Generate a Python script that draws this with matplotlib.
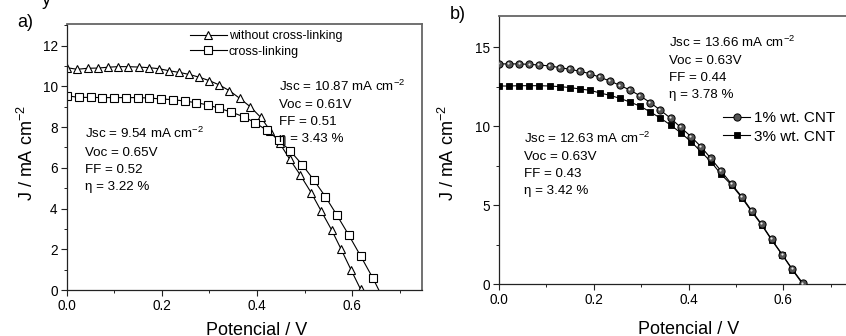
import matplotlib
matplotlib.use("Agg")
import matplotlib.pyplot as plt
from matplotlib.ticker import MultipleLocator, FormatStrFormatter
from matplotlib.transforms import offset_copy

plt.rcParams['font.family'] = ['Liberation Sans', 'DejaVu Sans']
plt.rcParams['mathtext.default'] = 'regular'

# ---------------- data ----------------
# panel a
v_without = [0.000, 0.022, 0.044, 0.065, 0.086, 0.107, 0.129, 0.151, 0.173, 0.194,
             0.215, 0.236, 0.257, 0.279, 0.300, 0.321, 0.342, 0.364, 0.386, 0.408,
             0.428, 0.448, 0.469, 0.491, 0.514, 0.535, 0.557, 0.577, 0.598, 0.618]
j_without = [10.92, 10.84, 10.89, 10.90, 10.94, 10.97, 10.97, 10.95, 10.92, 10.87,
             10.77, 10.69, 10.59, 10.45, 10.28, 10.07, 9.79, 9.41, 9.00, 8.48,
             7.83, 7.20, 6.42, 5.65, 4.78, 3.88, 2.95, 2.00, 0.98, 0.03]
v_cross = [0.000, 0.026, 0.051, 0.075, 0.100, 0.124, 0.149, 0.174, 0.199, 0.223,
           0.248, 0.272, 0.297, 0.321, 0.346, 0.372, 0.396, 0.421, 0.446, 0.470,
           0.495, 0.519, 0.544, 0.568, 0.593, 0.618, 0.644, 0.668]
j_cross = [9.54, 9.46, 9.46, 9.45, 9.45, 9.45, 9.45, 9.43, 9.38, 9.35,
           9.28, 9.20, 9.09, 8.92, 8.74, 8.51, 8.22, 7.84, 7.37, 6.83,
           6.16, 5.42, 4.58, 3.68, 2.70, 1.67, 0.57, -0.55]
labels_a = ['without cross-linking', 'cross-linking']
annot_a1 = ['Jsc = 10.87 mA cm$^{-2}$', 'Voc = 0.61V', 'FF = 0.51', 'η = 3.43 %']
annot_a2 = ['Jsc = 9.54 mA cm$^{-2}$', 'Voc = 0.65V', 'FF = 0.52', 'η = 3.22 %']

# panel b
v_cnt = [0.000, 0.021, 0.043, 0.064, 0.085, 0.107, 0.129, 0.150, 0.171, 0.192,
         0.213, 0.234, 0.255, 0.276, 0.298, 0.319, 0.340, 0.362, 0.383, 0.405,
         0.426, 0.447, 0.468, 0.491, 0.512, 0.533, 0.554, 0.575, 0.598, 0.619, 0.641]
j_cnt1 = [13.95, 13.95, 13.95, 13.92, 13.88, 13.82, 13.71, 13.61, 13.48, 13.33,
          13.10, 12.87, 12.59, 12.30, 11.92, 11.50, 11.03, 10.51, 9.94, 9.35,
          8.71, 7.97, 7.19, 6.33, 5.55, 4.66, 3.80, 2.85, 1.86, 0.95, 0.06]
j_cnt3 = [12.55, 12.55, 12.57, 12.57, 12.57, 12.55, 12.51, 12.45, 12.36, 12.28,
          12.11, 11.96, 11.77, 11.54, 11.27, 10.91, 10.53, 10.08, 9.60, 9.03,
          8.40, 7.76, 6.98, 6.27, 5.49, 4.60, 3.76, 2.81, 1.84, 0.91, 0.00]
labels_b = ['1% wt. CNT', '3% wt. CNT']
annot_b1 = ['Jsc = 13.66 mA cm$^{-2}$', 'Voc = 0.63V', 'FF = 0.44', 'η = 3.78 %']
annot_b2 = ['Jsc = 12.63 mA cm$^{-2}$', 'Voc = 0.63V', 'FF = 0.43', 'η = 3.42 %']

# ---------------- figure ----------------
W, H = 846, 336
fig = plt.figure(figsize=(W / 100, H / 100), dpi=100)


def fx(x):
    return x / W


def fy(y):
    return 1 - y / H


def add_axes_px(l, r, t, b):
    return fig.add_axes([fx(l), fy(b), (r - l) / W, (b - t) / H])


axA = add_axes_px(66.7, 422, 24.3, 290)
axB = add_axes_px(499, 846, 15.7, 284.3)

lw = 0.8
axA.plot(v_without, j_without, color='black', lw=lw, marker='^', ms=6.4,
         mfc='white', mec='black', mew=0.8, label=labels_a[0])
axA.plot(v_cross, j_cross, color='black', lw=lw, marker='s', ms=5.4,
         mfc='white', mec='black', mew=0.8, label=labels_a[1])

axB.plot(v_cnt, j_cnt3, color='black', lw=lw, marker='s', ms=5.0,
         mfc='black', mec='black', mew=0.6, label=labels_b[1], zorder=3)
axB.plot(v_cnt, j_cnt1, color='black', lw=lw, marker='o', ms=5.2,
         mfc='#555555', mec='black', mew=0.7, label=labels_b[0], zorder=4)
hl = offset_copy(axB.transData, fig=fig, x=-0.6, y=0.6, units='points')
axB.plot(v_cnt, j_cnt1, ls='none', marker='o', ms=1.6, mfc='#e8e8e8',
         mec='none', transform=hl, zorder=5)

axA.set_xlim(0, 0.747)
axA.set_ylim(0, 13.05)
axB.set_xlim(0, 0.732)
axB.set_ylim(0, 17.0)

axA.xaxis.set_major_locator(MultipleLocator(0.2))
axA.xaxis.set_minor_locator(MultipleLocator(0.1))
axA.yaxis.set_major_locator(MultipleLocator(2))
axA.yaxis.set_minor_locator(MultipleLocator(1))
axB.xaxis.set_major_locator(MultipleLocator(0.2))
axB.xaxis.set_minor_locator(MultipleLocator(0.1))
axB.yaxis.set_major_locator(MultipleLocator(5))
axB.yaxis.set_minor_locator(MultipleLocator(2.5))

for ax in (axA, axB):
    ax.xaxis.set_major_formatter(FormatStrFormatter('%.1f'))
    ax.yaxis.set_major_formatter(FormatStrFormatter('%d'))
    ax.tick_params(which='major', direction='out', length=4, width=0.8,
                   labelsize=9.8, pad=2.5, color='#222222')
    ax.tick_params(which='minor', direction='out', length=2.2, width=0.7,
                   color='#222222')
    for s in ('left', 'bottom'):
        ax.spines[s].set_color('#222222')
        ax.spines[s].set_linewidth(0.9)
    for s in ('top', 'right'):
        ax.spines[s].set_color('#666666')
        ax.spines[s].set_linewidth(1.3)
axB.spines['right'].set_visible(False)

# legends
legA = axA.legend(loc='center left', bbox_to_anchor=(fx(190), fy(44)),
                  bbox_transform=fig.transFigure, frameon=False, fontsize=9,
                  handlelength=2.95, handletextpad=0.15, labelspacing=0.28,
                  borderpad=0, borderaxespad=0, numpoints=1)
h, l = axB.get_legend_handles_labels()
legB = axB.legend([h[1], h[0]], [l[1], l[0]], loc='center left',
                  bbox_to_anchor=(fx(723), fy(127.3)),
                  bbox_transform=fig.transFigure, frameon=False, fontsize=11,
                  handlelength=1.77, handletextpad=0.25, labelspacing=0.3,
                  borderpad=0, borderaxespad=0, numpoints=1)


def block(lines, x, baselines, size=9.6):
    for s, yb in zip(lines, baselines):
        fig.text(fx(x), fy(yb), s, fontsize=size, ha='left', va='baseline')


block(annot_a1, 279, [91, 108, 125, 142])
block(annot_a2, 85, [138.3, 155.7, 173, 190])
block(annot_b1, 669, [46.7, 63.5, 81, 98.3])
block(annot_b2, 524, [143, 160, 177, 194])

# axis labels
fig.text(fx(27), fy(153), 'J / mA cm$^{-2}$', rotation=90, fontsize=13,
         ha='center', va='center')
fig.text(fx(448), fy(153), 'J / mA cm$^{-2}$', rotation=90, fontsize=13,
         ha='center', va='center')
fig.text(fx(257), fy(335), 'Potencial / V', fontsize=13, ha='center', va='baseline')
fig.text(fx(689), fy(334), 'Potencial / V', fontsize=13, ha='center', va='baseline')

# panel letters
fig.text(fx(17), fy(27), 'a)', fontsize=13, ha='left', va='baseline')
fig.text(fx(450), fy(19), 'b)', fontsize=13, ha='left', va='baseline')
fig.text(fx(42), fy(5), 'y', fontsize=13, ha='left', va='baseline')

fig.savefig('out.png', dpi=100)
